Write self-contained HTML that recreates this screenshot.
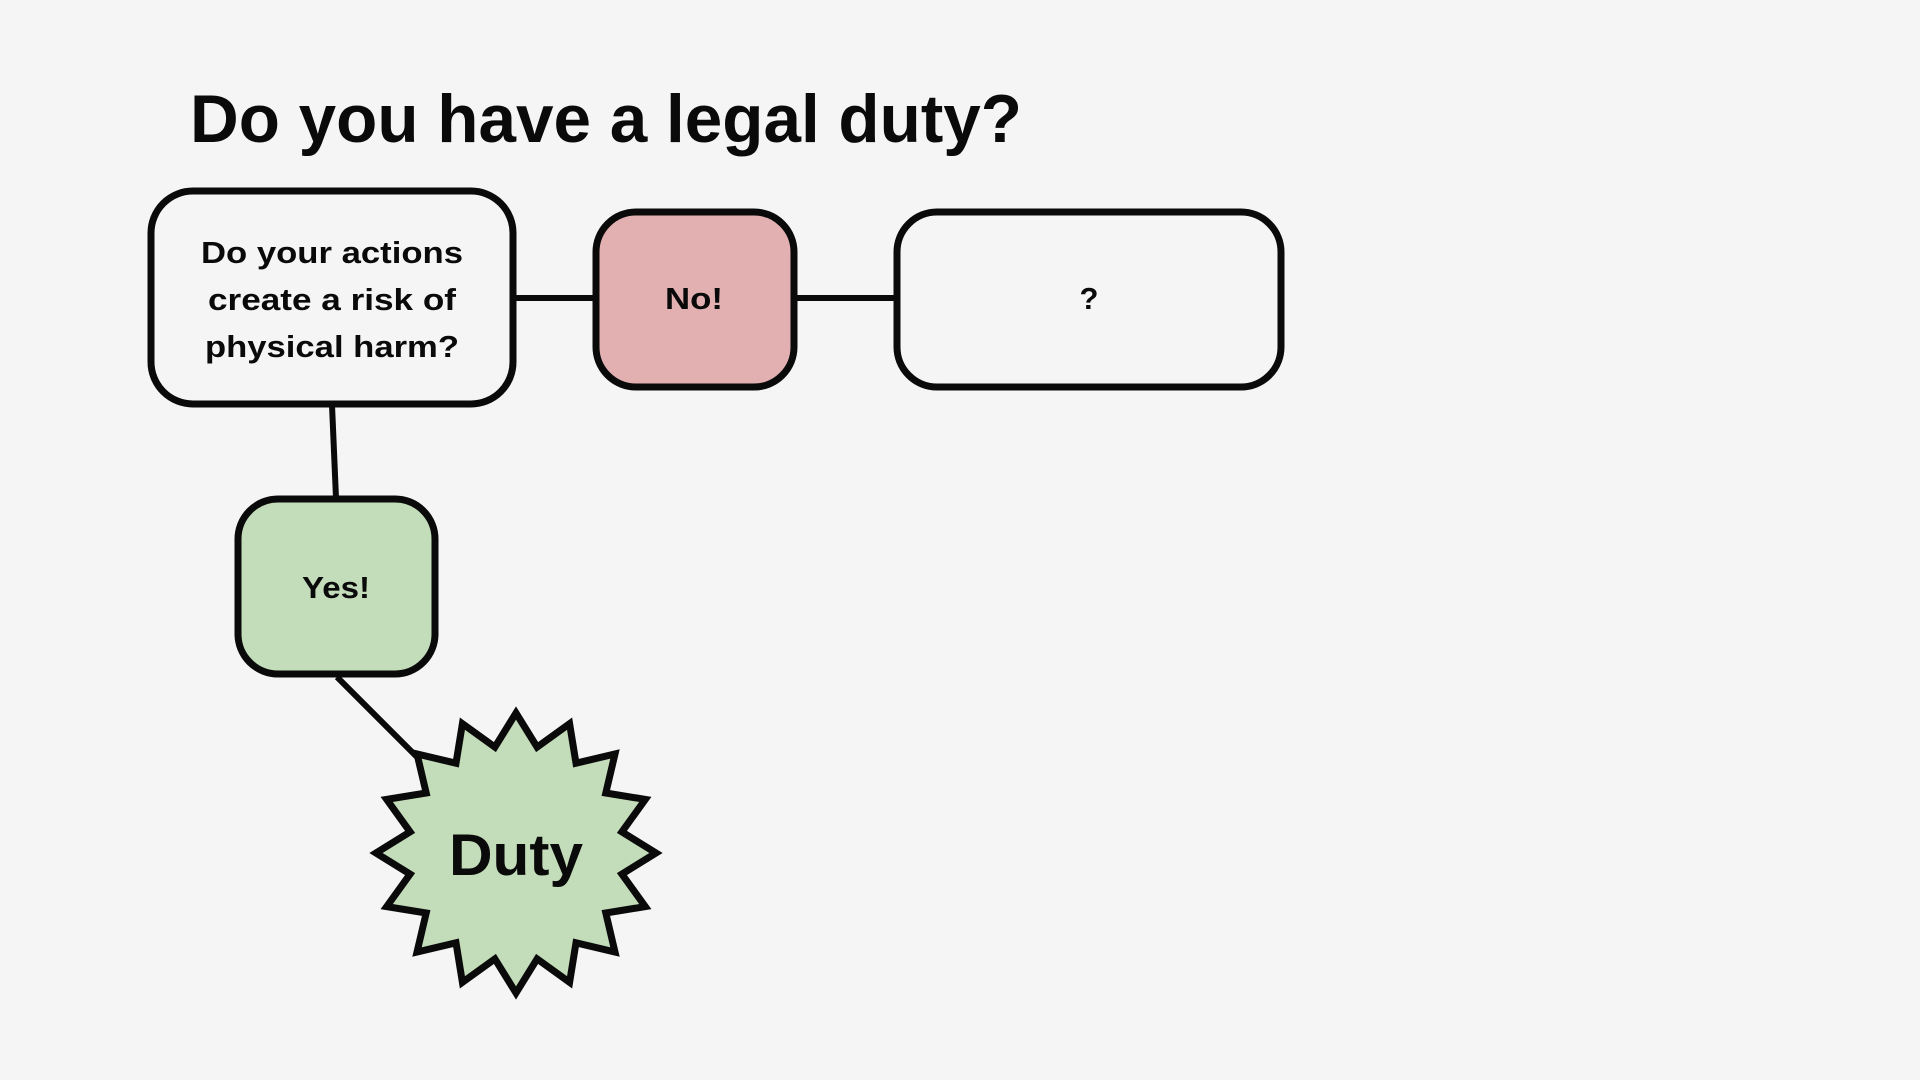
<!DOCTYPE html>
<html><head><meta charset="utf-8"><style>html,body{margin:0;padding:0;background:#f5f5f5;}svg{display:block}</style></head>
<body>
<svg width="1920" height="1080" viewBox="0 0 1920 1080" xmlns="http://www.w3.org/2000/svg" font-family="'Liberation Sans', sans-serif" font-weight="bold">
<rect width="1920" height="1080" fill="#f5f5f5"/>
<text x="190" y="142" font-size="68" textLength="832" lengthAdjust="spacingAndGlyphs" fill="#0a0a0a">Do you have a legal duty?</text>
<g stroke="#0a0a0a" stroke-width="6" fill="none">
<line x1="513" y1="298" x2="596" y2="298"/>
<line x1="793" y1="298" x2="897" y2="298"/>
<line x1="332" y1="405" x2="336" y2="498"/>
<line x1="337" y1="677" x2="420" y2="760"/>
</g>
<rect x="151" y="191" width="362" height="213" rx="42" fill="#f5f5f5" stroke="#0a0a0a" stroke-width="7"/>
<rect x="596" y="212" width="198" height="175" rx="40" fill="#e2b0b0" stroke="#0a0a0a" stroke-width="7"/>
<rect x="897" y="212" width="384" height="175" rx="40" fill="#f5f5f5" stroke="#0a0a0a" stroke-width="7"/>
<rect x="238" y="499" width="197" height="175" rx="40" fill="#c3dcb9" stroke="#0a0a0a" stroke-width="7"/>
<g font-size="31" fill="#0a0a0a" text-anchor="middle">
<text x="332" y="263" textLength="262" lengthAdjust="spacingAndGlyphs">Do your actions</text>
<text x="332" y="310" textLength="248" lengthAdjust="spacingAndGlyphs">create a risk of</text>
<text x="332" y="357" textLength="254" lengthAdjust="spacingAndGlyphs">physical harm?</text>
<text x="694" y="309" textLength="58" lengthAdjust="spacingAndGlyphs">No!</text>
<text x="1089" y="309">?</text>
<text x="336" y="598" textLength="68" lengthAdjust="spacingAndGlyphs">Yes!</text>
</g>
<polygon id="star" fill="#c3dcb9" stroke="#0a0a0a" stroke-width="7" stroke-linejoin="miter" points=""/>
<text x="516" y="875" font-size="58" text-anchor="middle" fill="#0a0a0a" textLength="134" lengthAdjust="spacingAndGlyphs">Duty</text>
<script>
(function(){var cx=516,cy=853,R=140,r=108,n=16,p=[];for(var i=0;i<2*n;i++){var a=Math.PI*i/n;var rr=i%2?r:R;p.push((cx+rr*Math.sin(a)).toFixed(1)+','+(cy-rr*Math.cos(a)).toFixed(1));}document.getElementById('star').setAttribute('points',p.join(' '));})();
</script>
</svg>
</body></html>
